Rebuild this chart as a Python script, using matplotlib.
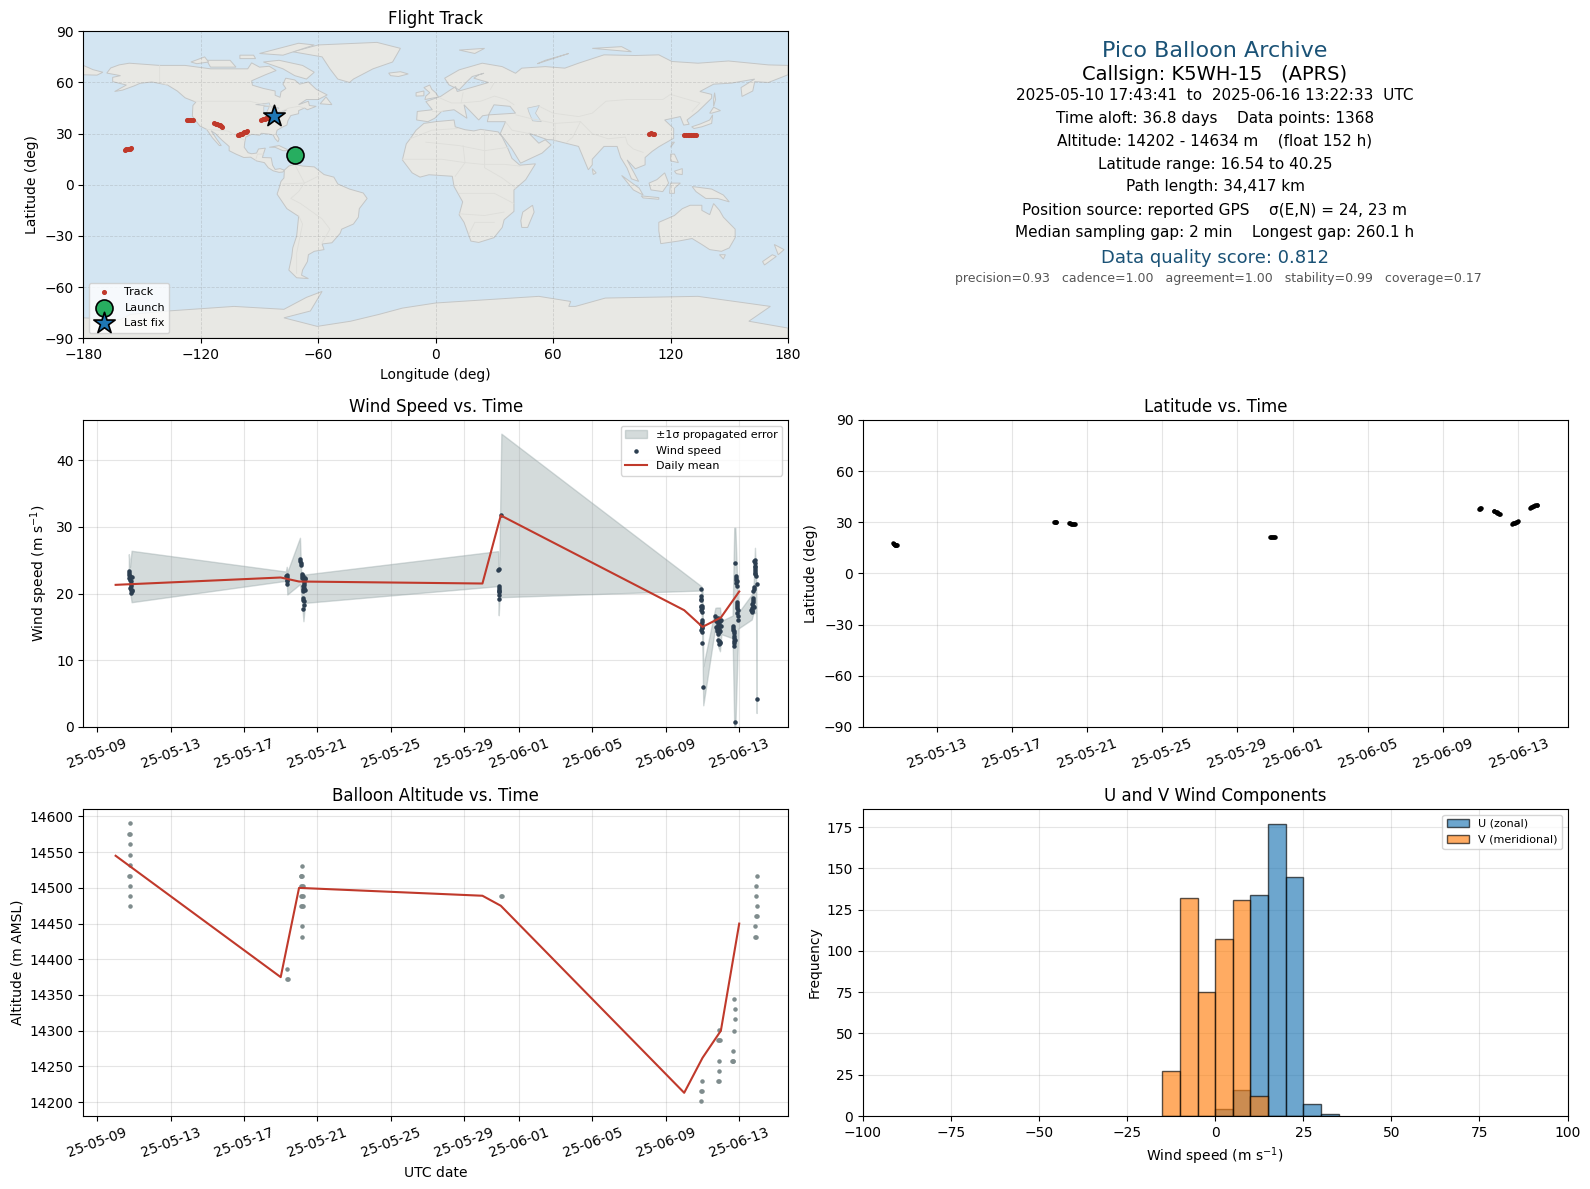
#!/usr/bin/python

import datetime as dt

import matplotlib
matplotlib.use("Agg")
import matplotlib.dates as mdates
import matplotlib.pyplot as plt
from matplotlib.patches import Polygon

# Figure layout (pixels)
W, H = 1590, 1189
LEFT_COL = (83.3, 788.0)
RIGHT_COL = (863.0, 1567.5)
ROW1 = (31.3, 338.3)
ROW2 = (420.0, 727.0)
ROW3 = (809.0, 1116.0)

RED = "#c0392b"
DARK = "#2c3e50"
GREY = "#7f8c8d"
BAND = "#95a5a6"
TITLE_BLUE = "#1a5276"

# Days counted from 2025-05-09 00:00 UTC
BASE = mdates.date2num(dt.datetime(2025, 5, 9))

DAILY_DAYS = [1, 10, 11, 21, 22, 32, 33, 34, 35]
DAILY_WIND = [21.3, 22.4, 21.8, 21.5, 31.7, 17.5, 15.0, 16.4, 20.3]
DAILY_ALT = [14545, 14375, 14500, 14489, 14475, 14213, 14262, 14300, 14450]

WIND_DAYS = [
    1.73, 1.73, 1.89, 1.73, 1.82, 1.82, 1.82, 1.89, 1.85, 1.75, 1.80, 1.84, 1.79, 1.87, 1.76,
    10.33, 10.33, 10.36, 10.36, 10.31, 10.35,
    11.05, 11.07, 11.09, 11.10, 11.14, 11.30, 11.28, 11.26, 11.26, 11.24, 11.24, 11.26, 11.26, 11.24,
    11.14, 11.18, 11.22, 11.28, 11.32, 11.25, 11.22, 11.20, 11.30, 11.24,
    21.88, 21.88, 21.88, 21.90, 21.92, 21.92, 22.03, 21.86, 21.90, 21.89,
    32.93, 32.93, 32.93, 32.93, 32.95, 32.95, 32.95, 32.95, 32.95, 32.95, 32.95, 33.04,
    32.91, 32.96, 32.93, 32.95, 32.94, 32.96, 32.94, 32.92,
    33.70, 33.75, 33.85, 33.78, 33.90, 33.95, 33.82, 33.88, 33.86, 33.90,
    33.80, 33.92, 34.00, 33.74, 33.96, 33.84, 34.03, 33.72, 33.88, 33.94,
    33.84, 33.92, 33.80, 33.88, 33.94, 33.86,
    34.77, 34.80, 34.82, 34.84, 34.86, 34.88, 34.88, 34.90, 34.92, 34.95,
    34.64, 34.66, 34.70, 34.70, 34.73, 34.73, 34.77,
    34.82, 34.86, 34.90, 34.92, 34.86, 34.68, 34.72, 34.74, 34.72, 34.75,
    35.86, 35.84, 35.86, 35.86, 35.88, 35.90, 35.95, 35.80, 35.77, 35.76,
    35.73, 35.74, 35.68, 35.72, 35.70, 35.95,
    35.82, 35.88, 35.86, 35.84, 35.78, 35.72, 35.76, 35.70, 35.78, 35.66,
]
WIND_SPEED = [
    23.35, 22.85, 22.45, 22.35, 21.85, 21.1, 20.6, 20.35, 20.1, 23.1, 22.0, 21.4, 20.9, 20.6, 22.6,
    22.85, 22.5, 22.1, 21.5, 22.7, 21.9,
    25.2, 24.85, 24.5, 24.2, 23.0, 22.35, 21.85, 21.35, 20.85, 20.35, 19.35, 18.95, 18.35, 17.7,
    22.7, 22.3, 22.6, 22.0, 22.2, 21.6, 21.1, 20.7, 20.6, 19.1,
    23.6, 21.1, 20.6, 20.2, 19.75, 19.25, 31.7, 23.5, 20.9, 20.4,
    20.75, 19.6, 19.2, 18.2, 17.85, 17.25, 15.75, 15.25, 14.85, 14.2, 12.6, 6.0,
    18.0, 18.1, 19.0, 16.0, 15.4, 15.0, 14.5, 17.5,
    16.6, 16.2, 16.3, 15.85, 15.85, 15.9, 15.5, 15.5, 15.1, 15.1,
    14.7, 14.7, 15.2, 15.0, 14.35, 14.35, 16.0, 15.9, 12.85, 12.6,
    14.0, 14.2, 14.4, 12.5, 12.7, 13.0,
    24.6, 22.6, 22.1, 21.6, 21.1, 18.7, 18.2, 17.1, 16.7, 16.0,
    15.1, 14.6, 14.1, 13.35, 12.6, 12.2, 0.7,
    22.3, 21.9, 18.4, 17.5, 17.8, 14.9, 14.4, 13.7, 12.9, 13.0,
    25.0, 24.6, 24.1, 23.6, 23.1, 22.6, 21.45, 21.0, 20.35, 19.35,
    18.7, 18.1, 17.6, 17.2, 17.9, 4.2,
    24.8, 23.9, 23.3, 22.9, 20.7, 18.4, 19.0, 17.4, 18.0, 17.5,
]

BAND_DAYS = [1.72, 1.75, 1.78, 1.87, 10.28, 10.33, 10.36, 11.05, 11.12, 11.24, 11.33,
             21.85, 21.89, 21.93, 22.03, 32.93, 33.00, 33.04, 33.70, 33.78, 33.86,
             33.95, 34.03, 34.64, 34.73, 34.79, 34.95, 35.68, 35.77, 35.86, 35.92, 35.95]
BAND_LOW = [22.0, 20.5, 20.5, 18.7, 21.9, 22.0, 19.85, 21.4, 20.0, 15.85, 18.6,
            21.1, 16.75, 19.5, 19.45, 20.45, 11.0, 3.25, 15.1, 14.5, 12.0,
            11.35, 13.9, 13.3, 0.1, 0.1, 14.75, 16.1, 17.0, 17.1, 17.1, 2.1]
BAND_HIGH = [25.9, 25.0, 24.0, 26.4, 23.3, 24.0, 23.2, 28.35, 23.0, 23.0, 22.85,
             26.35, 23.5, 26.3, 43.95, 21.1, 20.5, 9.1, 17.85, 17.9, 17.9,
             17.9, 15.9, 16.7, 29.85, 29.85, 17.1, 19.85, 20.0, 26.85, 22.0, 17.0]

ALT_DAYS = [
    1.78, 1.75, 1.81, 1.78, 1.77, 1.79, 1.75, 1.79, 1.76, 1.76, 1.76,
    10.35, 10.33, 10.38,
    11.15, 11.08, 11.13, 11.18, 11.10, 11.15, 11.20, 11.10, 11.14, 11.20, 11.10, 11.16, 11.21, 11.14, 11.14,
    22.0, 22.04,
    32.95, 32.92, 32.97, 32.94,
    33.92, 33.85, 33.90, 33.95, 33.88, 33.88, 33.84, 33.88,
    34.73, 34.75, 34.75, 34.73, 34.68, 34.66, 34.63, 34.68,
    35.95, 35.93, 35.94, 35.95, 35.92, 35.96, 35.88, 35.86, 35.90,
]
ALT_M = [
    14591, 14576, 14576, 14561, 14546, 14532, 14517, 14517, 14503, 14488, 14474,
    14387, 14373, 14373,
    14531, 14517, 14517, 14517, 14503, 14503, 14503, 14489, 14489, 14489, 14474, 14474, 14474, 14446, 14431,
    14489, 14489,
    14230, 14215, 14215, 14202,
    14301, 14287, 14287, 14287, 14258, 14244, 14230, 14230,
    14344, 14330, 14316, 14300, 14271, 14258, 14258, 14258,
    14517, 14503, 14489, 14474, 14460, 14460, 14446, 14431, 14431,
]

LAT_DAYS = [1.68, 1.71, 1.74, 1.77, 1.80, 1.83, 1.86, 1.89,
            10.28, 10.31, 10.34, 10.38,
            11.05, 11.10, 11.16, 11.22, 11.28, 11.34, 11.40,
            21.76, 21.82, 21.88, 21.94, 22.00, 22.05,
            32.92, 32.94, 32.96, 32.98,
            33.67, 33.72, 33.78, 33.83, 33.88, 33.93, 33.97, 34.0,
            34.68, 34.72, 34.77, 34.82, 34.86, 34.90, 34.95,
            35.62, 35.66, 35.72, 35.78, 35.84, 35.90, 35.96, 36.0]
LAT_DEG = [17.7, 17.5, 17.2, 17.0, 16.8, 16.7, 16.6, 16.54,
           30.4, 30.3, 30.2, 30.0,
           29.6, 29.5, 29.3, 29.1, 29.0, 28.9, 28.8,
           21.2, 21.3, 21.3, 21.4, 21.5, 21.5,
           37.7, 38.0, 38.3, 38.4,
           36.9, 36.6, 36.3, 36.0, 35.7, 35.4, 35.1, 34.9,
           29.2, 29.4, 29.7, 29.9, 30.1, 30.4, 30.6,
           38.4, 38.8, 39.1, 39.4, 39.6, 39.9, 40.1, 40.25]

TRACK_LON = [-158.5, -158.0, -157.4, -156.8, -156.2, -155.4,
             -127.0, -126.4, -125.7, -125.0, -124.2,
             -113.0, -112.3, -111.6, -110.9, -110.2, -109.5, -108.9,
             -101.2, -100.5, -99.8, -99.1, -98.4, -97.7, -97.0, -96.4,
             -89.0, -88.2, -87.4, -86.6, -85.8, -85.2,
             109.0, 110.0, 111.0, 111.7,
             126.9, 127.8, 128.7, 129.6, 130.5, 131.4, 132.2, 132.8]
TRACK_LAT = [20.6, 20.7, 20.9, 21.0, 21.2, 21.5,
             38.0, 38.0, 38.1, 38.0, 38.0,
             36.2, 35.9, 35.5, 35.2, 34.8, 34.3, 33.9,
             29.2, 29.4, 29.7, 30.0, 30.3, 30.7, 31.0, 31.4,
             38.2, 38.4, 38.7, 38.9, 39.2, 39.4,
             30.0, 30.1, 30.0, 29.9,
             29.3, 29.3, 29.2, 29.2, 29.2, 29.3, 29.3, 29.3]
LAUNCH_LON, LAUNCH_LAT = -72.0, 17.4
LAST_LON, LAST_LAT = -82.6, 40.4

HIST_EDGES = [-15, -10, -5, 0, 5, 10, 15, 20, 25, 30]
U_COUNTS = [0, 0, 0, 4, 16, 134, 177, 145, 7]
U_EXTRA_EDGE, U_EXTRA_COUNT = 30, 1
V_COUNTS = [27, 132, 75, 107, 131, 12, 0, 0, 0]

# Rough coastlines, lon/lat
LAND = [
    # North and Central America
    [(-168, 65.5), (-166, 68.5), (-161.7, 70.3), (-156.5, 71.3), (-141, 70), (-128, 70), (-115, 68), (-108, 68),
     (-96, 68), (-94, 71.5), (-90, 69), (-85, 69.5), (-81.5, 67), (-87, 64.5), (-94, 61), (-93.6, 58.4), (-88, 56.5),
     (-82, 55), (-82, 52.5), (-79.5, 51.3), (-79, 54.5), (-76.5, 56.5), (-78, 59), (-76.6, 62.5), (-72, 61.5),
     (-69.5, 59), (-65, 60.3), (-61, 56), (-55.4, 52.7), (-60, 50), (-66, 50), (-70, 47), (-65, 49), (-64.5, 46.5),
     (-61, 46), (-65.5, 44), (-67, 45), (-70, 43.5), (-70, 41.7), (-74, 40.6), (-75.5, 37.5), (-76, 35), (-78, 34),
     (-81, 32), (-81.5, 30), (-80, 26.8), (-80.5, 25.2), (-82, 27), (-83, 29.2), (-85, 29.7), (-89, 30.2),
     (-90, 29.1), (-94, 29.6), (-97, 28), (-97.5, 25), (-97.8, 22), (-95.8, 18.8), (-94, 18.2), (-91.5, 18.6),
     (-90.5, 21), (-87, 21.5), (-88, 18), (-88.5, 16), (-84, 15.8), (-83.3, 11.5), (-82, 9), (-79.5, 9.5),
     (-77.3, 8.6), (-78, 7.5), (-80, 7.3), (-83, 8.2), (-85.5, 10), (-87.5, 13), (-91.5, 14), (-94.5, 16.2),
     (-98, 16), (-102, 18), (-105.5, 20), (-105.5, 22.5), (-109, 26), (-112.5, 30), (-114.7, 31.7), (-112, 27),
     (-109.5, 23), (-110.5, 23), (-114, 27.5), (-117, 32.5), (-120.5, 34.5), (-122.5, 37.5), (-124.3, 40.3),
     (-124, 46.5), (-122.5, 48.5), (-128, 51), (-132, 55), (-137, 58.5), (-145, 60.3), (-151, 59.5), (-154, 58),
     (-160, 55.5), (-164, 54.7), (-158, 58.5), (-165, 60.5), (-165, 63), (-161, 64)],
    # South America
    [(-77.3, 8.6), (-75, 11), (-72, 12), (-68, 11), (-62, 10.5), (-57, 6), (-52, 4.5), (-50, 0.5), (-44, -2.5),
     (-37, -4.8), (-35, -8), (-39, -14), (-39.5, -19), (-42, -23), (-48, -26), (-48.8, -28.5), (-53, -34),
     (-58, -34.7), (-57, -38), (-62, -39), (-65, -41), (-65.5, -45), (-68, -50), (-68.5, -53), (-65, -55),
     (-71, -54.5), (-75, -50), (-73.5, -42), (-73, -37), (-71, -30), (-70, -18.5), (-76, -14), (-81, -5.5),
     (-80, -2), (-79, 2), (-77.5, 4)],
    # Africa
    [(-6, 36), (0, 37), (9.4, 38), (10, 34), (15, 32.3), (19.5, 31.6), (23, 32.5), (32, 31), (34, 28),
     (37, 21), (39, 15.5), (43, 11.5), (51, 12.3), (46, 3), (40, -3), (40, -10), (40, -15.6), (35, -20.5),
     (34, -25), (29.8, -31), (22, -33.8), (18, -33), (14.5, -22), (12, -17.6), (13.8, -10), (9.4, -1),
     (8.5, 5), (-3.4, 5.9), (-8, 4.5), (-12, 7), (-17, 14.6), (-15, 24), (-13, 27), (-10, 32)],
    # Eurasia
    [(-9.7, 38), (-9.4, 43), (-1.7, 44), (-5, 48.8), (2.5, 51.8), (7.6, 55.7), (10.2, 57.6), (11, 54.7), (20, 57.6),
     (27, 60), (19.5, 62.5), (22, 64.5), (24.7, 65.4), (18.7, 63.5), (16, 60.5), (12, 55.7), (6.8, 58.6), (4.6, 62.5),
     (12, 67.4), (23.8, 71.3), (34, 69.3), (40.8, 65.4), (44, 68.4), (56, 69.3), (66, 68.4), (73, 71.3), (86, 76.2),
     (102, 75.8), (114, 76.2), (120.7, 72.3), (134, 71.3), (149.6, 72.6), (170, 70.3), (180, 70), (180, 64.5),
     (170, 60), (163, 60.5), (162, 55), (156.5, 51.8), (156, 57), (163, 62), (151, 59.6), (142, 59), (135, 54.7),
     (141, 53), (141, 50.8), (134, 43), (128.4, 38), (129.5, 35.5), (126.7, 35), (125, 40), (121, 39), (117, 38),
     (121.6, 33), (121.6, 27.3), (114, 22.3), (110.5, 19.5), (107, 16), (107, 11.7), (102, 9.4), (97.8, 14.6),
     (103.7, 2), (100, 3.5), (97.8, 9.8), (94.5, 16), (92.7, 22.5), (86, 22.5), (80, 15), (80, 11.7), (78, 8.8),
     (73, 22.5), (59.5, 26.4), (57, 26.5), (47.6, 30.3), (52.7, 24.4), (56, 26.4), (59, 23.4), (54.4, 18.6),
     (43.4, 12.7), (39, 21), (33, 30), (35.7, 37), (26.4, 37), (27.2, 41), (40.8, 42), (38, 46), (29.8, 46.9),
     (27, 41), (24, 40.5), (22, 38), (14.5, 46.9), (16, 39), (9.4, 44), (3, 43), (-0.5, 39), (-4, 37)],
    # Far east tip of Siberia, past the date line
    [(-180, 70), (-175, 67.5), (-170, 66), (-173, 64.3), (-180, 64.5)],
    # Greenland, Iceland, British Isles
    [(-73, 78), (-60, 82), (-30, 83.5), (-18, 80), (-22, 72), (-32, 68), (-42, 62), (-44, 60), (-50, 62), (-54, 68),
     (-58, 75)],
    [(-24, 65.5), (-18, 66.3), (-14, 65), (-19, 63.5), (-23, 64)],
    [(-5.5, 50), (1.5, 51.5), (0, 54), (-2, 56), (-3, 58.5), (-6, 57), (-3, 54), (-5, 52)],
    [(-10, 52), (-6, 52.2), (-6, 55), (-10, 54)],
    # Arctic Canada
    [(-80, 73), (-68, 70), (-62, 66), (-66, 62), (-72, 64), (-78, 68), (-88, 72)],
    [(-117, 73), (-105, 73), (-102, 69), (-115, 69)],
    [(-90, 77), (-70, 83), (-62, 82), (-78, 76)],
    [(-125, 72), (-118, 75), (-116, 72), (-122, 71)],
    [(-100, 76), (-93, 76), (-92, 74), (-100, 74)],
    [(-59, 47.5), (-53, 47), (-56, 51.5)],
    # Caribbean
    [(-85, 22), (-80, 23), (-74.5, 20), (-78, 20), (-82, 22)],
    [(-74, 19.5), (-69, 19.7), (-68.5, 18.3), (-74, 18)],
    # Arctic Eurasia
    [(12, 79), (25, 80), (20, 77)],
    [(52, 71), (68, 77), (56, 73)],
    [(80, 80), (95, 81), (100, 78), (90, 79)],
    # Africa and Asia islands
    [(49.5, -12), (50.3, -16), (47, -25), (44, -25), (43.5, -21), (44.5, -16)],
    [(80, 9.5), (82, 7), (80.5, 6)],
    [(120, 22), (122, 25), (121, 25)],
    [(142, 46), (143, 50), (142.5, 54), (142, 50)],
    [(130.8, 34), (135, 35.6), (140, 38), (141.5, 41), (141, 36), (136, 34), (132, 33)],
    [(140, 42), (142, 45.5), (145.5, 43.5), (141, 42)],
    [(120, 18), (122, 18), (124, 13), (120, 14)],
    [(122, 8), (126, 9.5), (126, 6), (123, 6.5)],
    [(95, 5.5), (104, -2), (106, -6), (101, -3)],
    [(105, -6.5), (114, -7.5), (114, -8.5), (106, -7.7)],
    [(109, 1), (113, 3), (117, 7), (119, 1), (116, -4), (110, -3)],
    [(120, 1), (125, 1), (122, -2), (122, -5), (119.5, -5)],
    [(131, -1), (141, -2.5), (147, -6), (150, -10), (144, -8), (138, -8), (133, -4)],
    # Oceania
    [(114, -22), (122, -18), (126, -14), (130, -12), (136, -12), (136, -15), (140, -17.5), (142, -11), (145, -15),
     (147, -19), (153, -26), (153, -31), (150, -37), (146, -39), (140, -38), (136, -35), (131, -31.5), (124, -33),
     (115, -34.5), (114, -27)],
    [(145, -41), (148, -41), (147, -43.5)],
    [(173, -35), (178, -38), (175, -41), (174, -38)],
    [(172, -41), (174, -42), (168, -47), (167, -45)],
    # Antarctica
    [(-180, -84), (-180, -78), (-161, -79), (-156, -76), (-137, -74), (-103, -71.3), (-77.5, -73), (-66, -66),
     (-58, -62.5), (-64, -74), (-77.5, -78), (-60.5, -83), (-43.5, -80), (-29, -76), (-17, -72.3), (0, -69.3),
     (52.7, -65.4), (69, -68.4), (68, -71.3), (71.4, -71.3), (86.7, -66.4), (134, -65.4), (171, -71.3), (160, -80),
     (180, -84), (180, -90), (-180, -90)],
]
WATER = [
    [(47, 45), (53, 46.5), (51, 42), (54, 37), (49.5, 37.5), (47.5, 43)],
    [(-92, 47), (-85, 48), (-84.5, 46), (-88, 46.5)],
    [(-87.8, 46), (-85, 45.8), (-86.5, 42), (-87.8, 42)],
    [(-84, 46), (-80, 45), (-82.5, 43)],
    [(-83, 42), (-79, 43), (-76, 44), (-79, 42)],
]
BORDERS = [
    [(-141, 70), (-141, 60), (-137, 58.5)],
    [(-123, 49), (-95, 49), (-84, 46), (-79, 43), (-75, 45), (-70, 46), (-67, 45)],
    [(-117, 32.5), (-106, 31.5), (-97.5, 26)],
    [(-92, 14.5), (-91, 18), (-88, 18)],
    [(-72, 12), (-67, 1), (-70, -4), (-74, -8), (-69, -11), (-58, -20), (-54, -26), (-58, -34)],
    [(-60, 5), (-67, 1), (-78, 0.5)],
    [(-70, -18), (-68, -23), (-71, -40), (-71, -52)],
    [(-2, 43), (3, 43)],
    [(2, 51), (8, 48), (13, 48), (14, 54)],
    [(13, 48), (23, 49), (30, 52), (36, 50), (40, 47)],
    [(28, 56), (30, 60)],
    [(41, 41), (48, 39), (61, 36), (61, 25)],
    [(48, 30), (39, 32), (36, 36.5)],
    [(61, 36), (74, 37), (80, 30), (88, 27), (97, 28), (98, 24), (101, 21), (106, 19)],
    [(53, 46), (60, 42), (73, 40), (80, 42), (87, 49), (98, 50), (116, 50), (120, 53), (135, 48), (131, 43)],
    [(67, 25), (70, 28), (74, 37)],
    [(-13, 27), (-2, 32), (11, 33)],
    [(-5, 25), (12, 23), (25, 20), (37, 22)],
    [(25, 32), (25, 10), (34, 4), (41, -2)],
    [(-17, 15), (3, 15), (15, 13), (24, 12), (35, 12), (43, 11)],
    [(10, 5), (15, 13), (14, 23)],
    [(12, -5), (30, -5), (40, -11)],
    [(12, -17), (25, -18), (35, -16)],
    [(17, -29), (20, -22), (30, -22)],
]

LON_TICKS = [-180, -120, -60, 0, 60, 120, 180]
LAT_TICKS = [-90, -60, -30, 0, 30, 60, 90]
INFO_LINES = [
    "2025-05-10 17:43:41  to  2025-06-16 13:22:33  UTC",
    "Time aloft: 36.8 days    Data points: 1368",
    "Altitude: 14202 - 14634 m    (float 152 h)",
    "Latitude range: 16.54 to 40.25",
    "Path length: 34,417 km",
    "Position source: reported GPS    \u03c3(E,N) = 24, 23 m",
    "Median sampling gap: 2 min    Longest gap: 260.1 h",
]
INFO_Y = [95.0, 118.0, 141.2, 164.0, 187.0, 210.2, 233.0]


def make_axes(fig, col, row):
    return fig.add_axes([col[0] / W, 1 - row[1] / H, (col[1] - col[0]) / W, (row[1] - row[0]) / H])


def date_axis(ax, left, right):
    ax.set_xlim(BASE + left, BASE + right)
    ax.xaxis.set_major_locator(mdates.DayLocator(bymonthday=(1, 5, 9, 13, 17, 21, 25, 29)))
    ax.xaxis.set_major_formatter(mdates.DateFormatter("%y-%m-%d"))
    ax.tick_params(axis="x", labelrotation=20)
    ax.grid(True, color="grey", alpha=0.2)
    ax.set_axisbelow(True)


def to_dates(days):
    return [BASE + d for d in days]


fig = plt.figure(figsize=(W / 100, H / 100), dpi=100)

# Flight track
ax_map = make_axes(fig, LEFT_COL, ROW1)
ax_map.set_facecolor("#d3e5f2")
for shape in LAND:
    ax_map.add_patch(Polygon(shape, closed=True, facecolor="#e8e8e4", edgecolor="#c4c6c6", linewidth=0.7, zorder=1))
for shape in WATER:
    ax_map.add_patch(Polygon(shape, closed=True, facecolor="#d3e5f2", edgecolor="#c4c6c6", linewidth=0.5, zorder=1.1))
for line in BORDERS:
    ax_map.plot([p[0] for p in line], [p[1] for p in line], color="#dededa", linewidth=0.6, zorder=1.2)
ax_map.scatter(TRACK_LON, TRACK_LAT, s=7, color=RED, label="Track", zorder=4)
ax_map.scatter(LAUNCH_LON, LAUNCH_LAT, s=150, color="#27ae60", edgecolor="black", linewidth=1.2, label="Launch", zorder=5)
ax_map.scatter(LAST_LON, LAST_LAT, s=260, marker="*", color="#1f77b4", edgecolor="black", linewidth=1.2, label="Last fix", zorder=6)
ax_map.set_xlim(-180, 180)
ax_map.set_ylim(-90, 90)
ax_map.set_xticks(LON_TICKS)
ax_map.set_yticks(LAT_TICKS)
ax_map.grid(True, color="grey", alpha=0.25, linewidth=0.6, linestyle="--", zorder=2)
ax_map.set_title("Flight Track", fontsize=12, pad=5)
ax_map.set_xlabel("Longitude (deg)")
ax_map.set_ylabel("Latitude (deg)")
ax_map.legend(loc="lower left", fontsize=8)

# Summary text
fig.text(1215 / W, 1 - 51.2 / H, "Pico Balloon Archive", fontsize=16, color=TITLE_BLUE, ha="center", va="center")
fig.text(1215 / W, 1 - 74.0 / H, "Callsign: K5WH-15   (APRS)", fontsize=14, color="black", ha="center", va="center")
for text, y in zip(INFO_LINES, INFO_Y):
    fig.text(1215 / W, 1 - y / H, text, fontsize=11, color="black", ha="center", va="center")
fig.text(1215 / W, 1 - 258.0 / H, "Data quality score: 0.812", fontsize=13, color=TITLE_BLUE, ha="center", va="center")
fig.text(1218 / W, 1 - 278.5 / H, "precision=0.93   cadence=1.00   agreement=1.00   stability=0.99   coverage=0.17",
         fontsize=9, color="#555555", ha="center", va="center")

# Wind speed
ax_wind = make_axes(fig, LEFT_COL, ROW2)
ax_wind.fill_between(to_dates(BAND_DAYS), BAND_LOW, BAND_HIGH, color=BAND, alpha=0.4, label="\u00b11\u03c3 propagated error")
ax_wind.scatter(to_dates(WIND_DAYS), WIND_SPEED, s=5, color=DARK, label="Wind speed", zorder=3)
ax_wind.plot(to_dates(DAILY_DAYS), DAILY_WIND, color=RED, linewidth=1.5, label="Daily mean", zorder=4)
date_axis(ax_wind, -0.763, 37.66)
ax_wind.set_ylim(0, 46)
ax_wind.set_title("Wind Speed vs. Time", fontsize=12)
ax_wind.set_ylabel("Wind speed (m s$^{-1}$)")
ax_wind.legend(loc="upper right", fontsize=8)

# Latitude
ax_lat = make_axes(fig, RIGHT_COL, ROW2)
ax_lat.scatter(to_dates(LAT_DAYS), LAT_DEG, s=5, color="black", zorder=3)
date_axis(ax_lat, 0.085, 37.61)
ax_lat.set_ylim(-90, 90)
ax_lat.set_yticks(LAT_TICKS)
ax_lat.set_title("Latitude vs. Time", fontsize=12)
ax_lat.set_ylabel("Latitude (deg)")

# Altitude
ax_alt = make_axes(fig, LEFT_COL, ROW3)
ax_alt.scatter(to_dates(ALT_DAYS), ALT_M, s=5, color=GREY, zorder=3)
ax_alt.plot(to_dates(DAILY_DAYS), DAILY_ALT, color=RED, linewidth=1.5, zorder=4)
date_axis(ax_alt, -0.763, 37.66)
ax_alt.set_ylim(14180.5, 14610.5)
ax_alt.set_title("Balloon Altitude vs. Time", fontsize=12)
ax_alt.set_xlabel("UTC date")
ax_alt.set_ylabel("Altitude (m AMSL)")

# U and V
ax_hist = make_axes(fig, RIGHT_COL, ROW3)
ax_hist.bar(HIST_EDGES[:-1], U_COUNTS, width=5, align="edge", color="#1f77b4", alpha=0.65, edgecolor="black", linewidth=1, label="U (zonal)")
ax_hist.bar([U_EXTRA_EDGE], [U_EXTRA_COUNT], width=5, align="edge", color="#1f77b4", alpha=0.65, edgecolor="black", linewidth=1)
ax_hist.bar(HIST_EDGES[:-1], V_COUNTS, width=5, align="edge", color="#ff7f0e", alpha=0.65, edgecolor="black", linewidth=1, label="V (meridional)")
ax_hist.set_xlim(-100, 100)
ax_hist.set_ylim(0, 186)
ax_hist.grid(True, color="grey", alpha=0.2)
ax_hist.set_axisbelow(True)
ax_hist.set_title("U and V Wind Components", fontsize=12)
ax_hist.set_xlabel("Wind speed (m s$^{-1}$)")
ax_hist.set_ylabel("Frequency")
ax_hist.legend(loc="upper right", fontsize=8)

fig.savefig("out.png", dpi=100)
